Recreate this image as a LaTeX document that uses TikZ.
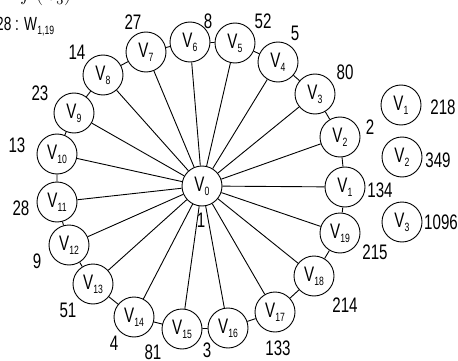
\documentclass[tikz,border=0pt]{standalone}
\usepackage{fontspec}
\setmainfont[FakeStretch=0.72]{Liberation Sans}
\newcommand\vs[1]{V\kern0.2pt\raisebox{-0.35ex}{\fontsize{12}{12}\selectfont #1}}
\begin{document}
\begin{tikzpicture}[x=1pt,y=-1pt,
  vtx/.style={circle,draw,line width=0.9pt,minimum size=40pt,inner sep=0pt,fill=white,font=\fontsize{21}{21}\selectfont},
  wlab/.style={font=\fontsize{21}{21}\selectfont,inner sep=0pt},
  edge/.style={line width=0.9pt}]
\useasboundingbox (0,0) rectangle (458,361);
% partially visible top text
\node[anchor=base west,inner sep=0pt,font=\fontsize{22}{22}\selectfont] (toptext) at (20,1) {$f\,(\,v_3)$};
\node[anchor=base west,inner sep=0pt,font=\fontsize{19}{19}\selectfont] (wlabel) at (-4,31) {28 : W\kern0.3pt\raisebox{-0.3ex}{\fontsize{12}{12}\selectfont 1,19}};
% hub
\node[vtx] (v0) at (202,186) {\vs{0}};
% cycle
\node[vtx] (c1) at (345,187) {\vs{1}};
\node[vtx] (c2) at (340,137) {\vs{2}};
\node[vtx] (c3) at (315,94) {\vs{3}};
\node[vtx] (c4) at (278,62) {\vs{4}};
\node[vtx] (c5) at (235,43) {\vs{5}};
\node[vtx] (c6) at (190,42) {\vs{6}};
\node[vtx] (c7) at (146,52) {\vs{7}};
\node[vtx] (c8) at (103,75) {\vs{8}};
\node[vtx] (c9) at (74,113) {\vs{9}};
\node[vtx] (c10) at (57,154) {\vs{10}};
\node[vtx] (c11) at (57,202) {\vs{11}};
\node[vtx] (c12) at (69,245) {\vs{12}};
\node[vtx] (c13) at (93,284) {\vs{13}};
\node[vtx] (c14) at (134,317) {\vs{14}};
\node[vtx] (c15) at (182,329) {\vs{15}};
\node[vtx] (c16) at (228,328) {\vs{16}};
\node[vtx] (c17) at (275,312) {\vs{17}};
\node[vtx] (c18) at (314,276) {\vs{18}};
\node[vtx] (c19) at (340,233) {\vs{19}};
% isolated
\node[vtx] (i1) at (401,105) {\vs{1}};
\node[vtx] (i2) at (402,157) {\vs{2}};
\node[vtx] (i3) at (402,222) {\vs{3}};
% spokes
\foreach \i in {1,...,19} \draw[edge] (v0) -- (c\i);
% cycle edges
\draw[edge] (c1) -- (c2) (c2) -- (c3) (c3) -- (c4) (c4) -- (c5) (c5) -- (c6)
  (c6) -- (c7) (c7) -- (c8) (c8) -- (c9) (c9) -- (c10) (c10) -- (c11)
  (c11) -- (c12) (c12) -- (c13) (c13) -- (c14) (c14) -- (c15) (c15) -- (c16)
  (c16) -- (c17) (c17) -- (c18) (c18) -- (c19) (c19) -- (c1);
% weights
\node[wlab] (w1) at (380,190) {134};
\node[wlab] (w2) at (370,127) {2};
\node[wlab] (w3) at (345,72) {80};
\node[wlab] (w4) at (295,33) {5};
\node[wlab] (w5) at (263,21) {52};
\node[wlab] (w6) at (208,21) {8};
\node[wlab] (w7) at (133,22) {27};
\node[wlab] (w8) at (77,52) {14};
\node[wlab] (w9) at (40,93) {23};
\node[wlab] (w10) at (17,145) {13};
\node[wlab] (w11) at (21,208) {28};
\node[wlab] (w12) at (37,261) {9};
\node[wlab] (w13) at (68,310) {51};
\node[wlab] (w14) at (114,343) {4};
\node[wlab] (w15) at (153,352) {81};
\node[wlab] (w16) at (207,350) {3};
\node[wlab] (w17) at (278,348) {133};
\node[wlab] (w18) at (345,305) {214};
\node[wlab] (w19) at (375,252) {215};
\node[wlab] (w0) at (201,220) {1};
\node[wlab] (wi1) at (443,107) {218};
\node[wlab] (wi2) at (438,160) {349};
\node[wlab] (wi3) at (441,222) {1096};
\end{tikzpicture}
\end{document}
